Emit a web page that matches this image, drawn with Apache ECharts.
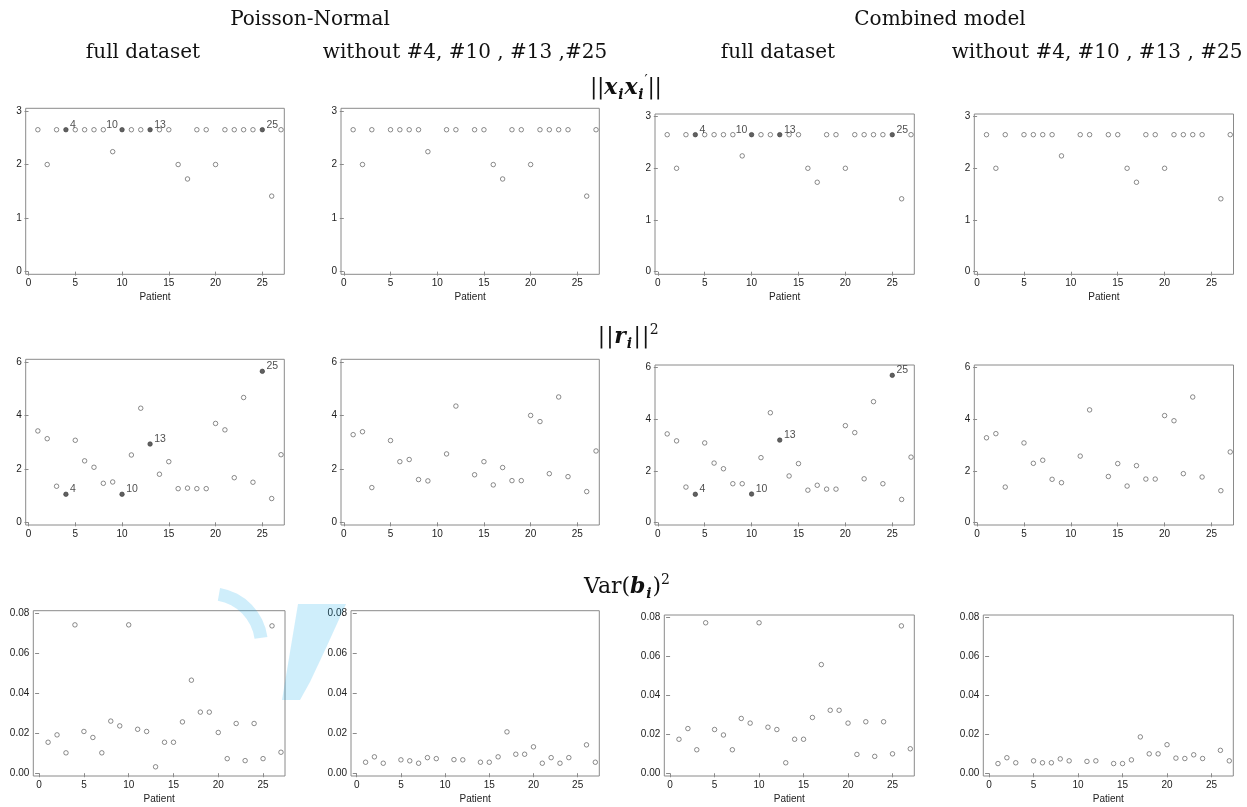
<!DOCTYPE html>
<html>
<head>
<meta charset="utf-8">
<script src="https://cdn.jsdelivr.net/npm/echarts@6/dist/echarts.min.js"></script>
<style>
  html, body { margin: 0; padding: 0; background: #ffffff; }
  #chart { width: 1247px; height: 807px; }
</style>
</head>
<body>
<div id="chart"></div>
<script>
// ---- data -------------------------------------------------------------
const xTicks = [0, 5, 10, 15, 20, 25];
const allPatients = [1,2,3,4,5,6,7,8,9,10,11,12,13,14,15,16,17,18,19,20,21,22,23,24,25,26,27];
const reducedPatients = [1,2,3,5,6,7,8,9,11,12,14,15,16,17,18,19,20,21,22,23,24,26,27];
const removedPatients = [4, 10, 13, 25];

// ||x_i x_i'||
const levPNFull = [2.65,2.0,2.65,2.65,2.65,2.65,2.65,2.65,2.24,2.65,2.65,2.65,2.65,2.65,2.65,2.0,1.73,2.65,2.65,2.0,2.65,2.65,2.65,2.65,2.65,1.41,2.65];
const levPNReduced = [2.65,2.0,2.65,2.65,2.65,2.65,2.65,2.24,2.65,2.65,2.65,2.65,2.0,1.73,2.65,2.65,2.0,2.65,2.65,2.65,2.65,1.41,2.65];
const levCMFull = [2.65,2.0,2.65,2.65,2.65,2.65,2.65,2.65,2.24,2.65,2.65,2.65,2.65,2.65,2.65,2.0,1.73,2.65,2.65,2.0,2.65,2.65,2.65,2.65,2.65,1.41,2.65];
const levCMReduced = [2.65,2.0,2.65,2.65,2.65,2.65,2.65,2.24,2.65,2.65,2.65,2.65,2.0,1.73,2.65,2.65,2.0,2.65,2.65,2.65,2.65,1.41,2.65];

// ||r_i||^2
const resPNFull = [3.42,3.13,1.35,1.05,3.07,2.30,2.06,1.46,1.51,1.05,2.52,4.27,2.93,1.80,2.27,1.26,1.28,1.26,1.26,3.70,3.46,1.67,4.67,1.50,5.65,0.89,2.53];
const resPNReduced = [3.28,3.39,1.30,3.06,2.27,2.35,1.60,1.55,2.56,4.35,1.78,2.27,1.40,2.05,1.56,1.56,4.00,3.77,1.82,4.69,1.71,1.15,2.67];
const resCMFull = [3.43,3.16,1.37,1.09,3.08,2.30,2.08,1.50,1.50,1.10,2.51,4.25,3.19,1.80,2.28,1.25,1.44,1.29,1.29,3.75,3.48,1.69,4.68,1.50,5.70,0.89,2.53];
const resCMReduced = [3.28,3.44,1.37,3.08,2.29,2.41,1.67,1.54,2.57,4.36,1.78,2.28,1.41,2.20,1.68,1.68,4.14,3.94,1.89,4.86,1.76,1.23,2.73];

// Var(b_i)^2
const varPNFull = [0.0155,0.0192,0.0102,0.0743,0.0209,0.0179,0.0102,0.0261,0.0237,0.0743,0.0220,0.0209,0.0032,0.0155,0.0155,0.0257,0.0466,0.0306,0.0306,0.0204,0.0073,0.0249,0.0063,0.0249,0.0073,0.0738,0.0105];
const varPNReduced = [0.0055,0.0082,0.0050,0.0067,0.0062,0.0050,0.0078,0.0073,0.0068,0.0067,0.0055,0.0055,0.0082,0.0207,0.0095,0.0095,0.0132,0.0050,0.0078,0.0050,0.0078,0.0142,0.0055];
const varCMFull = [0.0175,0.0230,0.0121,0.0774,0.0225,0.0197,0.0121,0.0282,0.0258,0.0774,0.0237,0.0225,0.0054,0.0175,0.0175,0.0287,0.0559,0.0324,0.0324,0.0258,0.0097,0.0265,0.0087,0.0265,0.0100,0.0758,0.0126];
const varCMReduced = [0.0050,0.0080,0.0054,0.0064,0.0054,0.0054,0.0074,0.0064,0.0061,0.0064,0.0050,0.0050,0.0069,0.0187,0.0100,0.0100,0.0147,0.0078,0.0076,0.0095,0.0076,0.0118,0.0064];

const yTicksLev = [0, 1, 2, 3];
const yTicksRes = [0, 2, 4, 6];
const yTicksVar = [0, 0.02, 0.04, 0.06, 0.08];

// ---- layout -----------------------------------------------------------
// plot boxes: [left, right, top, bottom] in pixels, row by row
const boxes = [
  [25.7, 284.3, 108.3, 274.3], [341, 599.3, 108.3, 274.3], [655, 914.3, 114, 274.3], [974.3, 1233.5, 114, 274.3],
  [25.7, 284.3, 359.3, 525],   [341, 599.3, 359.3, 525],   [655, 914.3, 365, 525],   [974.3, 1233.5, 365, 525],
  [33.3, 285, 610.7, 776],     [351, 599.3, 610.7, 776],   [664.3, 914.3, 615, 776], [983.3, 1233.3, 615, 776]
];
const rows = [
  { xr: [-0.3, 27.35], yr: [-0.05, 3.05], yTicks: yTicksLev, fmt: v => String(v), showName: true,
    sets: [[allPatients, levPNFull], [reducedPatients, levPNReduced], [allPatients, levCMFull], [reducedPatients, levCMReduced]],
    mark: true, side: { 4: 'right', 10: 'left', 13: 'right', 25: 'right' } },
  { xr: [-0.3, 27.35], yr: [-0.1, 6.1], yTicks: yTicksRes, fmt: v => String(v), showName: false,
    sets: [[allPatients, resPNFull], [reducedPatients, resPNReduced], [allPatients, resCMFull], [reducedPatients, resCMReduced]],
    mark: true, side: { 4: 'right', 10: 'right', 13: 'right', 25: 'right' } },
  { xr: [-0.65, 27.45], yr: [-0.0014, 0.0814], yTicks: yTicksVar, fmt: v => v.toFixed(2), showName: true,
    sets: [[allPatients, varPNFull], [reducedPatients, varPNReduced], [allPatients, varCMFull], [reducedPatients, varCMReduced]],
    mark: false, side: {} }
];

const boxColor = '#8a8a8a';
const inkColor = '#222222';
const sansFont = 'Liberation Sans, Arial, sans-serif';
const serifFont = 'DejaVu Serif, serif';

const grids = [], xAxes = [], yAxes = [], series = [];

rows.forEach((row, r) => {
  row.sets.forEach((set, c) => {
    const i = r * 4 + c;
    const b = boxes[i];
    grids.push({
      left: b[0], top: b[2], width: b[1] - b[0], height: b[3] - b[2],
      show: true, backgroundColor: '#ffffff', borderColor: boxColor, borderWidth: 1,
      containLabel: false, outerBoundsMode: 'none'
    });
    xAxes.push({
      gridIndex: i, type: 'value', min: row.xr[0], max: row.xr[1],
      axisLine: { show: false }, splitLine: { show: false },
      axisTick: { show: true, customValues: xTicks, length: 4, lineStyle: { color: boxColor } },
      axisLabel: { customValues: xTicks, margin: 4, fontSize: 10, color: inkColor, fontFamily: sansFont },
      name: row.showName ? 'Patient' : '', nameLocation: 'middle', nameGap: 18,
      nameTextStyle: { fontSize: 10, color: inkColor, fontFamily: sansFont }
    });
    yAxes.push({
      gridIndex: i, type: 'value', min: row.yr[0], max: row.yr[1],
      axisLine: { show: false }, splitLine: { show: false },
      axisTick: { show: true, customValues: row.yTicks, length: 4, lineStyle: { color: boxColor } },
      axisLabel: { customValues: row.yTicks, margin: 4, fontSize: 10, color: inkColor, fontFamily: sansFont, formatter: row.fmt }
    });

    const [pts, vals] = set;
    const fullSet = pts.length === allPatients.length;
    const openData = [], filledData = [];
    pts.forEach((p, k) => {
      if (row.mark && fullSet && removedPatients.includes(p)) {
        filledData.push({
          value: [p, vals[k]],
          label: { show: true, position: row.side[p], distance: 1.5, offset: [0, -5], formatter: String(p) }
        });
      } else {
        openData.push([p, vals[k]]);
      }
    });
    series.push({
      type: 'scatter', xAxisIndex: i, yAxisIndex: i, data: openData,
      symbol: 'circle', symbolSize: 4.5, silent: true, z: 2,
      itemStyle: { color: '#ffffff', borderColor: '#4a4a4a', borderWidth: 0.8 }
    });
    if (filledData.length) {
      series.push({
        type: 'scatter', xAxisIndex: i, yAxisIndex: i, data: filledData,
        symbol: 'circle', symbolSize: 4.5, silent: true, z: 2,
        itemStyle: { color: '#3a3a3a', borderColor: '#3a3a3a', borderWidth: 0.8 },
        label: { fontSize: 10.5, color: inkColor, fontFamily: sansFont }
      });
    }
  });
});

// ---- headers ----------------------------------------------------------
function header(text, x, y, size) {
  return { type: 'text', silent: true, z: 10, style: {
    text: text, x: x, y: y, align: 'center', verticalAlign: 'middle',
    fontFamily: serifFont, fontSize: size, fill: '#111111' } };
}
function mathRich(barWidth) {
  return {
    n: { fontFamily: serifFont, fontSize: 22, lineHeight: 28 },
    bar: { fontFamily: serifFont, fontSize: 22, lineHeight: 28, width: barWidth, align: 'center' },
    b: { fontFamily: serifFont, fontSize: 22, lineHeight: 28, fontStyle: 'italic', fontWeight: 'bold' },
    s: { fontFamily: serifFont, fontSize: 14, lineHeight: 14, fontStyle: 'italic', fontWeight: 'bold', verticalAlign: 'bottom', width: 7 },
    p: { fontFamily: serifFont, fontSize: 14, lineHeight: 14, verticalAlign: 'top' }
  };
}
function mathTitle(text, x, y, barWidth) {
  return { type: 'text', silent: true, z: 10, style: {
    text: text, x: x, y: y, align: 'center', verticalAlign: 'middle',
    fill: '#111111', rich: mathRich(barWidth) } };
}

// light-blue review watermark fragments visible around the bottom row
const watermarkFill = 'rgba(0, 165, 235, 0.19)';
const watermark = [
  { type: 'sector', silent: true, z: 20, shape: { cx: 210, cy: 645, r0: 45, r: 58,
      startAngle: -80 * Math.PI / 180, endAngle: -8 * Math.PI / 180 },
    style: { fill: watermarkFill } },
  { type: 'polygon', silent: true, z: 20,
    shape: { points: [[298, 604], [346, 604], [326, 648], [310, 682], [300, 700], [282, 700], [290, 652]] },
    style: { fill: watermarkFill } }
];

const graphics = [
  header('Poisson-Normal', 310, 20, 20),
  header('Combined model', 940, 20, 20),
  header('full dataset', 143, 53, 20),
  header('without #4, #10 , #13 ,#25', 465, 53, 20),
  header('full dataset', 778, 53, 20),
  header('without #4, #10 , #13 , #25', 1097, 53, 20),
  mathTitle('{bar||}{bar||}{b|x}{s|i}{b|x}{s|i}{p|′}{bar||}{bar||}', 626, 88, 7),
  mathTitle('{bar||}{bar||}{b|r}{s|i}{bar||}{bar||}{p|2}', 628, 337, 8.5),
  mathTitle('{n|Var(}{b|b}{s|i}{n|)}{p|2}', 627, 587, 7)
].concat(watermark);

const chart = echarts.init(document.getElementById('chart'), null, { renderer: 'canvas' });
chart.setOption({
  animation: false,
  backgroundColor: '#ffffff',
  grid: grids,
  xAxis: xAxes,
  yAxis: yAxes,
  series: series,
  graphic: graphics
});
</script>
</body>
</html>
